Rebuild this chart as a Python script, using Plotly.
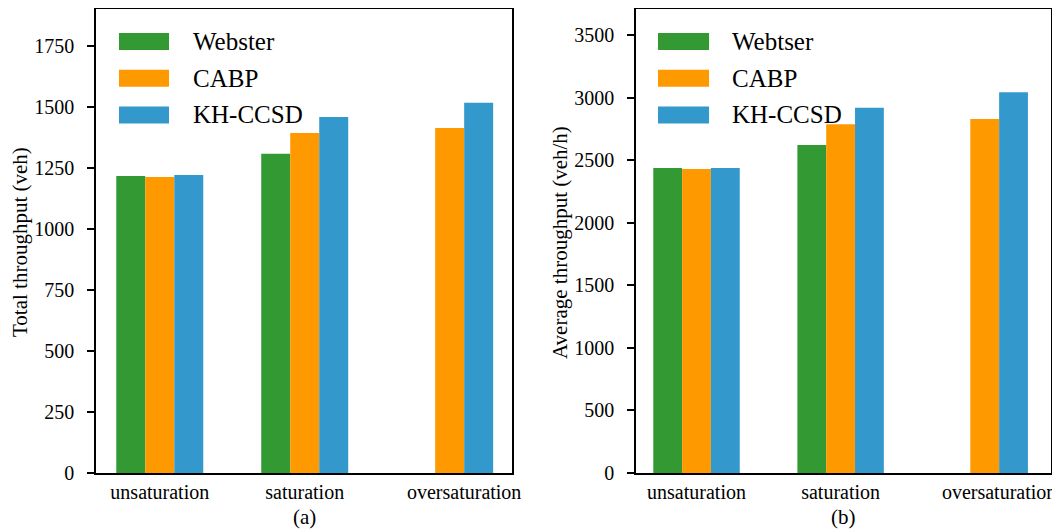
import plotly.graph_objects as go

# ---------------- data ----------------
categories = ["unsaturation", "saturation", "oversaturation"]

series_a = ["Webster", "CABP", "KH-CCSD"]
total_webster = [1216, 1307, None]
total_cabp = [1212, 1392, 1413]
total_khccsd = [1220, 1458, 1516]

series_b = ["Webtser", "CABP", "KH-CCSD"]
avg_webster = [2437, 2621, None]
avg_cabp = [2429, 2786, 2829]
avg_khccsd = [2437, 2919, 3042]

y_ticks_a = [0, 250, 500, 750, 1000, 1250, 1500, 1750]
y_ticks_b = [0, 500, 1000, 1500, 2000, 2500, 3000, 3500]

# ---------------- style ----------------
colors = ["#339933", "#ff9900", "#3399cc"]
FONT = "Liberation Serif"
BAR_W = 0.2
offsets = [-0.3, -0.1, 0.1]  # left edges relative to category position

# page places the figure div with an 8px body margin
OFF = 8
W, H = 1060 - OFF, 529 - OFF


def dx(px):
    return (px - OFF) / W


def dy(py):
    return 1 - (py - OFF) / H


fig = go.Figure()

xpos = list(range(len(categories)))


def tick_centres(series_lists):
    # centre of the bars actually present in each category
    out = []
    for ci in range(len(categories)):
        cs = [ci + offsets[si] + BAR_W / 2 for si, s in enumerate(series_lists) if s[ci] is not None]
        out.append(sum(cs) / len(cs))
    return out


panels = [
    ("x", "y", series_a, [total_webster, total_cabp, total_khccsd]),
    ("x2", "y2", series_b, [avg_webster, avg_cabp, avg_khccsd]),
]

for xa, ya, names, vals in panels:
    for si, (nm, v) in enumerate(zip(names, vals)):
        fig.add_trace(go.Bar(
            x=xpos, y=v, name=nm, xaxis=xa, yaxis=ya,
            width=BAR_W, offset=offsets[si],
            marker=dict(color=colors[si], line=dict(width=0)),
            showlegend=False,
        ))

ydom = [dy(473), dy(9)]
axis_common = dict(showline=True, linecolor="black", linewidth=1.5, mirror=True,
                   showgrid=False, zeroline=False, automargin=False)
tick_font = dict(family=FONT, size=20, color="black")

fig.update_layout(
    width=W, height=H,
    margin=dict(l=0, r=0, t=0, b=0, autoexpand=False),
    paper_bgcolor="white", plot_bgcolor="white",
    barmode="overlay",
    font=dict(family=FONT, color="black"),
    xaxis=dict(domain=[dx(96), dx(512)], range=[-0.44, 2.43],
               tickmode="array", tickvals=tick_centres([total_webster, total_cabp, total_khccsd]),
               ticktext=categories, ticks="", tickfont=tick_font, anchor="y", **axis_common),
    yaxis=dict(domain=ydom, range=[0, 1900], tickmode="array", tickvals=y_ticks_a,
               ticks="outside", ticklen=7, tickwidth=1.5, tickcolor="black",
               tickfont=tick_font, anchor="x", ticklabelstandoff=9, **axis_common),
    xaxis2=dict(domain=[dx(636), dx(1051)], range=[-0.42, 2.46],
                tickmode="array", tickvals=tick_centres([avg_webster, avg_cabp, avg_khccsd]),
                ticktext=categories, ticks="", tickfont=tick_font, anchor="y2", **axis_common),
    yaxis2=dict(domain=ydom, range=[0, 3708], tickmode="array", tickvals=y_ticks_b,
                ticks="outside", ticklen=7, tickwidth=1.5, tickcolor="black",
                tickfont=tick_font, anchor="x2", ticklabelstandoff=9, **axis_common),
)

shapes = []
annotations = []

# manual legends (large swatches)
for xa, ya, names, px0, px1, tx in [("x", "y", series_a, 0.0553, 0.1755, 0.228),
                                     ("x2", "y2", series_b, 0.053, 0.176, 0.2265)]:
    for i, nm in enumerate(names):
        yc = 0.930 - i * 0.0792
        shapes.append(dict(type="rect", xref=f"{xa} domain", yref=f"{ya} domain",
                           x0=px0, x1=px1, y0=yc - 0.0185, y1=yc + 0.0185,
                           fillcolor=colors[i], line=dict(width=0)))
        annotations.append(dict(text=nm, xref=f"{xa} domain", yref=f"{ya} domain",
                                x=tx, y=yc, xanchor="left", yanchor="middle",
                                showarrow=False, font=dict(family=FONT, size=25, color="black")))

title_font = dict(family=FONT, size=21, color="black")
# y-axis titles
annotations.append(dict(text="Total throughput (veh)", xref="paper", yref="paper",
                        x=dx(20), y=dy(242), textangle=-90,
                        xanchor="center", yanchor="middle", showarrow=False, font=title_font))
annotations.append(dict(text="Average throughput (veh/h)", xref="paper", yref="paper",
                        x=dx(560), y=dy(243), textangle=-90,
                        xanchor="center", yanchor="middle", showarrow=False, font=title_font))
# sub-captions
annotations.append(dict(text="(a)", xref="paper", yref="paper", x=dx(304), y=dy(517),
                        xanchor="center", yanchor="middle", showarrow=False, font=title_font))
annotations.append(dict(text="(b)", xref="paper", yref="paper", x=dx(843), y=dy(517),
                        xanchor="center", yanchor="middle", showarrow=False, font=title_font))

fig.update_layout(shapes=shapes, annotations=annotations)

fig.write_html("out.html")
